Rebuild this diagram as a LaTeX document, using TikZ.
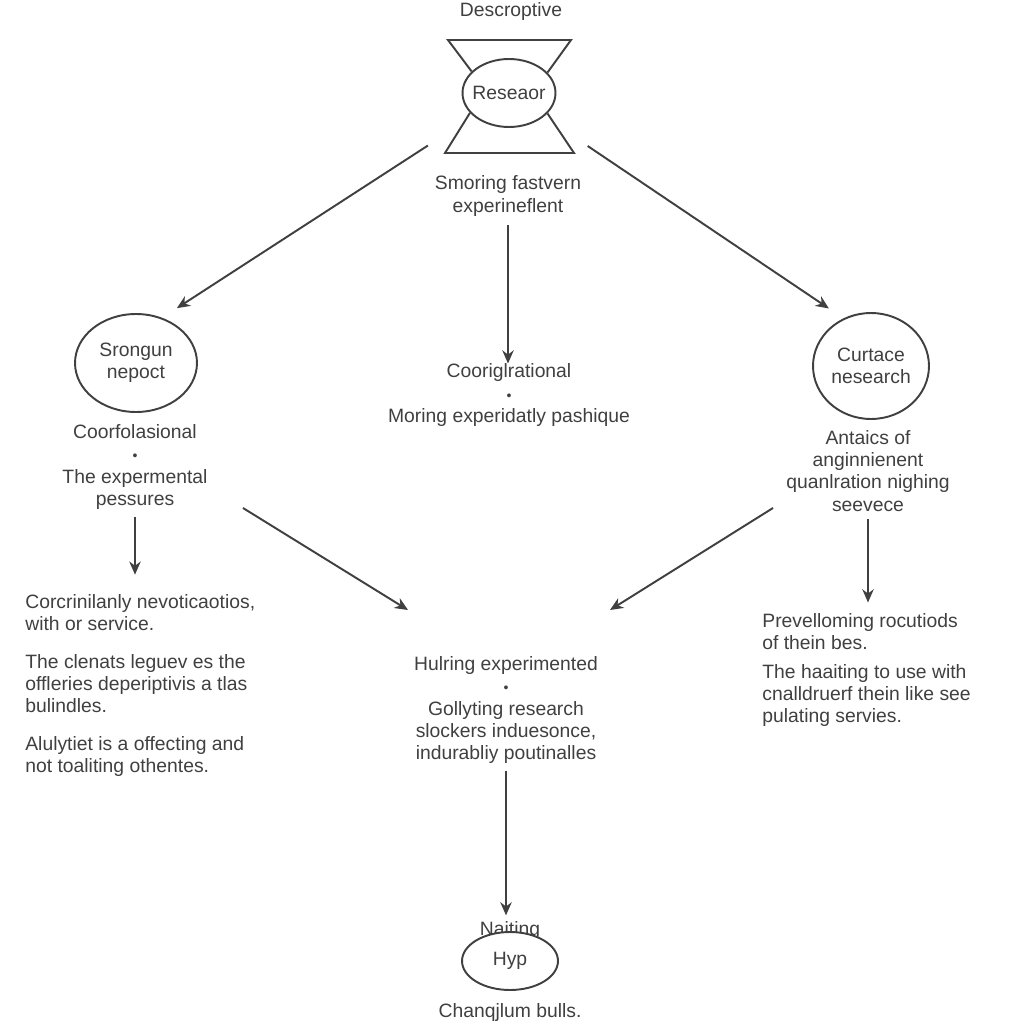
\documentclass[tikz,border=0pt]{standalone}
\usepackage{fontspec}
\setmainfont{Liberation Sans}
\usetikzlibrary{shapes.geometric,arrows.meta}

\newcommand{\smalldot}{{\footnotesize\textbullet}}

\begin{document}
\begin{tikzpicture}[
    x=0.02cm,
    y=-0.02cm,
    every node/.style={
        font=\fontsize{11}{12.6}\selectfont,
        text=black!75
    },
    label/.style={
        align=center,
        inner sep=0pt
    },
    para/.style={
        align=left,
        inner sep=0pt,
        anchor=north west
    },
    bubble/.style={
        ellipse,
        draw=black!75,
        line width=1.1pt,
        inner sep=0pt,
        align=center,
        fill=white
    },
    arrow/.style={
        -{Stealth[length=7.5pt,width=6.5pt]},
        draw=black!75,
        line width=1.1pt
    }
]
\useasboundingbox[fill=white] (0,0) rectangle (1024,1024);

% Oben
\node[label] (title) at (511,12) {Descroptive};
\node[bubble, inner xsep=-2.5pt, minimum width=1.86cm, minimum height=1.36cm] (research) at (509,93) {Reseaor};
\coordinate (tl) at (448,40);
\coordinate (tr) at (571,40);
\coordinate (bl) at (445,153);
\coordinate (br) at (574,153);
\draw[line width=1.1pt, black!75] (research.150) -- (tl) -- (tr) -- (research.28);
\draw[line width=1.1pt, black!75] (research.207) -- (bl) -- (br) -- (research.332);

\node[label] (smoring) at (508,196) {Smoring fastvern\\experineflent};
\node[label] (coorig) at (509,395) {Cooriglrational\\\smalldot\\Moring experidatly pashique};

% Links
\node[bubble, minimum width=2.44cm, minimum height=1.96cm] (strong) at (136,363) {Srongun\\nepoct};
\node[label] (coorf) at (135,467) {Coorfolasional\\\smalldot\\The expermental\\pessures};
\node[para] (leftblock) at (25,594) {%
    Corcrinilanly nevoticaotios,\\
    with or service.\\[9pt]
    The clenats leguev es the\\
    offleries deperiptivis a tlas\\
    bulindles.\\[9pt]
    Alulytiet is a offecting and\\
    not toaliting othentes.};

% Rechts
\node[bubble, minimum width=2.32cm, minimum height=2.12cm] (surface) at (871,366) {Curtace\\nesearch};
\node[label] (antaics) at (868,471) {Antaics of\\anginnienent\\quanlration nighing\\seevece};
\node[para] (rightblock) at (762,613) {%
    Prevelloming rocutiods\\
    of thein bes.\\[4pt]
    The haaiting to use with\\
    cnalldruerf thein like see\\
    pulating servies.};

% Mitte unten
\node[label] (hulring) at (506,710) {Hulring experimented\\\smalldot\\Gollyting research\\slockers induesonce,\\indurabliy poutinalles};
\node[label] (naiting) at (510,930) {Naiting};
\node[bubble, minimum width=1.92cm, minimum height=1.16cm] (hyp) at (510,961) {Hyp};
\node[label] (chanq) at (510,1012) {Chanqjlum bulls.};

% Pfeile
\coordinate (ml) at (243,508);
\coordinate (mlend) at (408,610);
\coordinate (mr) at (773,508);
\coordinate (mrend) at (610,610);

\draw[arrow, shorten <=55pt, shorten >=10pt] (research.center) -- (strong.60);
\draw[arrow, shorten <=54pt, shorten >=10pt] (research.center) -- (surface.120);
\draw[arrow, shorten <=5pt] (smoring.south) -- (smoring.south |- coorig.north);
\draw[arrow, shorten <=4pt, shorten >=11pt] (coorf.south) -- (coorf.south |- leftblock.north);
\draw[arrow, shorten <=4pt, shorten >=6pt] (antaics.south) -- (antaics.south |- rightblock.north);
\draw[arrow] (ml) -- (mlend);
\draw[arrow] (mr) -- (mrend);
\draw[arrow, shorten <=4pt, shorten >=3pt] (hulring.south) -- (hulring.south |- naiting.north);

\end{tikzpicture}
\end{document}
